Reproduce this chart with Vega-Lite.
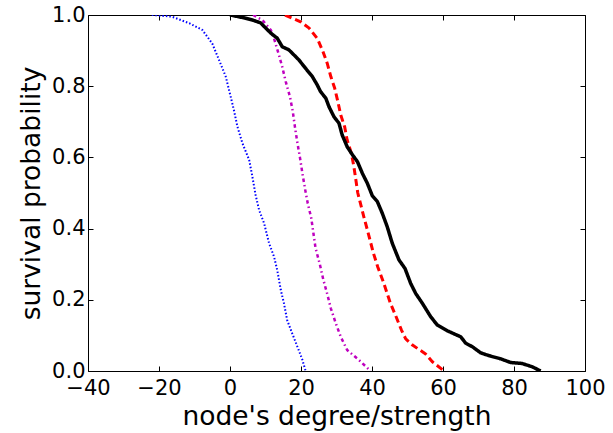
{
  "$schema": "https://vega.github.io/schema/vega-lite/v6.json",
  "width": 497,
  "height": 356,
  "autosize": {"type": "none"},
  "padding": {"left": 88, "top": 15, "right": 28, "bottom": 62},
  "background": "white",
  "config": {
    "font": "DejaVu Sans",
    "view": {"stroke": null},
    "axis": {
      "grid": false,
      "domainColor": "black",
      "domainWidth": 1,
      "tickColor": "black",
      "tickWidth": 1,
      "tickSize": -5,
      "labelFontSize": 21,
      "labelColor": "black",
      "titleFontSize": 26.5,
      "titleFontWeight": "normal",
      "titleColor": "black",
      "labelFont": "DejaVu Sans",
      "titleFont": "DejaVu Sans"
    }
  },
  "data": {
    "values": [
      {"series": "a", "x": -22, "y": 1.0},
      {"series": "a", "x": -18, "y": 0.997},
      {"series": "a", "x": -16.3, "y": 0.995},
      {"series": "a", "x": -11.5, "y": 0.977},
      {"series": "a", "x": -7.8, "y": 0.958},
      {"series": "a", "x": -5.0, "y": 0.92},
      {"series": "a", "x": -3.1, "y": 0.874},
      {"series": "a", "x": -1.2, "y": 0.827},
      {"series": "a", "x": 0.2, "y": 0.77},
      {"series": "a", "x": 1.1, "y": 0.733},
      {"series": "a", "x": 2.1, "y": 0.686},
      {"series": "a", "x": 3.5, "y": 0.64},
      {"series": "a", "x": 5.4, "y": 0.593},
      {"series": "a", "x": 6.3, "y": 0.546},
      {"series": "a", "x": 7.2, "y": 0.495},
      {"series": "a", "x": 8.2, "y": 0.452},
      {"series": "a", "x": 9.6, "y": 0.415},
      {"series": "a", "x": 11.0, "y": 0.359},
      {"series": "a", "x": 12.4, "y": 0.321},
      {"series": "a", "x": 13.3, "y": 0.284},
      {"series": "a", "x": 14.3, "y": 0.228},
      {"series": "a", "x": 15.2, "y": 0.19},
      {"series": "a", "x": 16.1, "y": 0.143},
      {"series": "a", "x": 17.5, "y": 0.106},
      {"series": "a", "x": 19.0, "y": 0.068},
      {"series": "a", "x": 20.4, "y": 0.031},
      {"series": "a", "x": 21.3, "y": 0.0},

      {"series": "b", "x": 6.5, "y": 1.0},
      {"series": "b", "x": 9.1, "y": 0.986},
      {"series": "b", "x": 11.5, "y": 0.958},
      {"series": "b", "x": 12.4, "y": 0.934},
      {"series": "b", "x": 13.6, "y": 0.894},
      {"series": "b", "x": 14.7, "y": 0.855},
      {"series": "b", "x": 15.7, "y": 0.813},
      {"series": "b", "x": 16.9, "y": 0.77},
      {"series": "b", "x": 17.7, "y": 0.728},
      {"series": "b", "x": 18.3, "y": 0.685},
      {"series": "b", "x": 19.0, "y": 0.64},
      {"series": "b", "x": 19.7, "y": 0.6},
      {"series": "b", "x": 20.4, "y": 0.555},
      {"series": "b", "x": 21.2, "y": 0.508},
      {"series": "b", "x": 21.9, "y": 0.471},
      {"series": "b", "x": 22.9, "y": 0.429},
      {"series": "b", "x": 23.5, "y": 0.387},
      {"series": "b", "x": 24.1, "y": 0.345},
      {"series": "b", "x": 25.3, "y": 0.3},
      {"series": "b", "x": 26.3, "y": 0.256},
      {"series": "b", "x": 27.4, "y": 0.216},
      {"series": "b", "x": 28.4, "y": 0.176},
      {"series": "b", "x": 29.8, "y": 0.134},
      {"series": "b", "x": 31.2, "y": 0.096},
      {"series": "b", "x": 33.0, "y": 0.059},
      {"series": "b", "x": 36.3, "y": 0.031},
      {"series": "b", "x": 39.6, "y": 0.0},

      {"series": "c", "x": 15.5, "y": 1.0},
      {"series": "c", "x": 19.9, "y": 0.981},
      {"series": "c", "x": 22.3, "y": 0.963},
      {"series": "c", "x": 24.6, "y": 0.934},
      {"series": "c", "x": 26.2, "y": 0.897},
      {"series": "c", "x": 27.4, "y": 0.864},
      {"series": "c", "x": 28.4, "y": 0.827},
      {"series": "c", "x": 29.5, "y": 0.794},
      {"series": "c", "x": 30.4, "y": 0.756},
      {"series": "c", "x": 31.2, "y": 0.719},
      {"series": "c", "x": 32.3, "y": 0.686},
      {"series": "c", "x": 33.0, "y": 0.649},
      {"series": "c", "x": 34.2, "y": 0.611},
      {"series": "c", "x": 34.9, "y": 0.574},
      {"series": "c", "x": 36.0, "y": 0.5},
      {"series": "c", "x": 37.7, "y": 0.433},
      {"series": "c", "x": 38.7, "y": 0.396},
      {"series": "c", "x": 40.4, "y": 0.331},
      {"series": "c", "x": 41.6, "y": 0.293},
      {"series": "c", "x": 43.2, "y": 0.25},
      {"series": "c", "x": 45.2, "y": 0.19},
      {"series": "c", "x": 46.6, "y": 0.157},
      {"series": "c", "x": 48.3, "y": 0.115},
      {"series": "c", "x": 49.5, "y": 0.09},
      {"series": "c", "x": 51.4, "y": 0.073},
      {"series": "c", "x": 53.0, "y": 0.062},
      {"series": "c", "x": 55.1, "y": 0.048},
      {"series": "c", "x": 57.0, "y": 0.026},
      {"series": "c", "x": 60.3, "y": 0.0},

      {"series": "d", "x": 0.0, "y": 1.0},
      {"series": "d", "x": 3.5, "y": 0.993},
      {"series": "d", "x": 6.3, "y": 0.986},
      {"series": "d", "x": 8.6, "y": 0.978},
      {"series": "d", "x": 10.1, "y": 0.963},
      {"series": "d", "x": 11.5, "y": 0.949},
      {"series": "d", "x": 13.3, "y": 0.935},
      {"series": "d", "x": 14.7, "y": 0.911},
      {"series": "d", "x": 16.6, "y": 0.902},
      {"series": "d", "x": 18.0, "y": 0.888},
      {"series": "d", "x": 19.4, "y": 0.874},
      {"series": "d", "x": 21.3, "y": 0.85},
      {"series": "d", "x": 23.2, "y": 0.827},
      {"series": "d", "x": 24.6, "y": 0.803},
      {"series": "d", "x": 25.5, "y": 0.785},
      {"series": "d", "x": 27.0, "y": 0.766},
      {"series": "d", "x": 27.9, "y": 0.742},
      {"series": "d", "x": 29.3, "y": 0.714},
      {"series": "d", "x": 30.7, "y": 0.696},
      {"series": "d", "x": 31.6, "y": 0.663},
      {"series": "d", "x": 33.0, "y": 0.63},
      {"series": "d", "x": 34.5, "y": 0.607},
      {"series": "d", "x": 35.9, "y": 0.588},
      {"series": "d", "x": 37.3, "y": 0.555},
      {"series": "d", "x": 38.7, "y": 0.527},
      {"series": "d", "x": 40.1, "y": 0.492},
      {"series": "d", "x": 41.5, "y": 0.476},
      {"series": "d", "x": 42.9, "y": 0.443},
      {"series": "d", "x": 44.3, "y": 0.405},
      {"series": "d", "x": 45.7, "y": 0.359},
      {"series": "d", "x": 47.6, "y": 0.312},
      {"series": "d", "x": 49.3, "y": 0.288},
      {"series": "d", "x": 50.9, "y": 0.246},
      {"series": "d", "x": 52.3, "y": 0.218},
      {"series": "d", "x": 54.2, "y": 0.19},
      {"series": "d", "x": 56.5, "y": 0.153},
      {"series": "d", "x": 58.4, "y": 0.129},
      {"series": "d", "x": 61.2, "y": 0.113},
      {"series": "d", "x": 65.0, "y": 0.096},
      {"series": "d", "x": 66.4, "y": 0.078},
      {"series": "d", "x": 68.3, "y": 0.068},
      {"series": "d", "x": 70.6, "y": 0.051},
      {"series": "d", "x": 73.0, "y": 0.043},
      {"series": "d", "x": 76.3, "y": 0.034},
      {"series": "d", "x": 79.0, "y": 0.024},
      {"series": "d", "x": 82.3, "y": 0.021},
      {"series": "d", "x": 85.1, "y": 0.012},
      {"series": "d", "x": 87.5, "y": 0.0}
    ]
  },
  "layer": [
    {
      "mark": {"type": "line", "clip": true, "strokeCap": "butt", "strokeJoin": "round"},
      "encoding": {
        "x": {
          "field": "x", "type": "quantitative",
          "scale": {"domain": [-40, 100], "nice": false, "zero": false},
          "axis": {"values": [-40, -20, 0, 20, 40, 60, 80, 100], "title": "node's degree/strength", "labelPadding": 11, "titlePadding": 5, "labelFlush": false}
        },
        "y": {
          "field": "y", "type": "quantitative",
          "scale": {"domain": [0, 1], "nice": false},
          "axis": {"values": [0, 0.2, 0.4, 0.6, 0.8, 1.0], "format": ".1f", "title": "survival probability", "labelPadding": 8, "titlePadding": 6, "labelFlush": false}
        },
        "color": {
          "field": "series", "type": "nominal",
          "scale": {"domain": ["a", "b", "c", "d"], "range": ["#0000ff", "#bf00bf", "#ff0000", "#000000"]},
          "legend": null
        },
        "strokeDash": {
          "field": "series", "type": "nominal",
          "scale": {"domain": ["a", "b", "c", "d"], "range": [[1.5, 2], [3.5, 3, 1.5, 3], [7, 4], [1, 0]]},
          "legend": null
        },
        "strokeWidth": {
          "field": "series", "type": "ordinal",
          "scale": {"domain": ["a", "b", "c", "d"], "range": [2, 3.5, 3.5, 3.8]},
          "legend": null
        }
      }
    },
    {
      "mark": {"type": "point", "opacity": 0},
      "encoding": {
        "x": {
          "field": "x", "type": "quantitative",
          "scale": {"domain": [-40, 100], "nice": false, "zero": false},
          "axis": {"orient": "top", "values": [-40, -20, 0, 20, 40, 60, 80, 100], "labels": false, "title": null}
        },
        "y": {
          "field": "y", "type": "quantitative",
          "scale": {"domain": [0, 1], "nice": false},
          "axis": {"orient": "right", "values": [0, 0.2, 0.4, 0.6, 0.8, 1.0], "labels": false, "title": null}
        }
      }
    }
  ],
  "resolve": {"axis": {"x": "independent", "y": "independent"}}
}
